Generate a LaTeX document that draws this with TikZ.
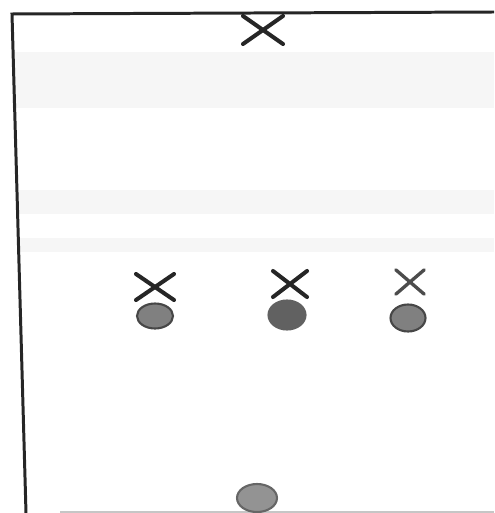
\documentclass[tikz,border=0pt]{standalone}
\usepackage{tikz}
\usetikzlibrary{shapes.misc,shapes.geometric}

\begin{document}
\begin{tikzpicture}[x=0.02cm,y=-0.02cm,
    cross/.style={draw=black!85, cross out, line width=2.3pt, line cap=round, inner sep=0pt},
    blob/.style={draw=black!72, fill=gray, ellipse, line width=1.2pt, inner sep=0pt},
    band/.style={fill=gray!7, draw=none}]
                \useasboundingbox (0,0) rectangle (494,513);
                % faint scan bands
                \fill[band] (12,52) rectangle (494,108);
                \fill[band] (16,190) rectangle (494,214);
                \fill[band] (20,238) rectangle (494,252);
                \draw[gray!45, line width=0.8pt] (60,512) -- (494,512);
                % frame
                \coordinate (topleft) at (12,14);
                \coordinate (topright) at (494,12);
                \coordinate (botleft) at (26,513);
                \draw[line width=1.7pt, black!85] (botleft) -- (topleft) -- (topright);
                % marks
                \node (xtop) [cross, minimum width=0.72cm, minimum height=0.48cm] at (263,30) {};
                \node (xa) [cross, minimum width=0.68cm, minimum height=0.44cm] at (155,287) {};
                \node (xb) [cross, minimum width=0.6cm, minimum height=0.44cm] at (290,284) {};
                \node (xc) [cross, draw=black!70, line width=1.9pt, minimum width=0.5cm, minimum height=0.42cm] at (410,282) {};
                \node (ea) [blob, minimum width=0.72cm, minimum height=0.5cm] at (155,316) {};
                \node (eb) [blob, draw=black!62, fill=black!62, minimum width=0.74cm, minimum height=0.58cm] at (287,315) {};
                \node (ec) [blob, minimum width=0.7cm, minimum height=0.54cm] at (408,318) {};
                \node (ed) [blob, draw=black!60, fill=gray!85, minimum width=0.8cm, minimum height=0.56cm] at (257,498) {};
            \end{tikzpicture}
\end{document}
